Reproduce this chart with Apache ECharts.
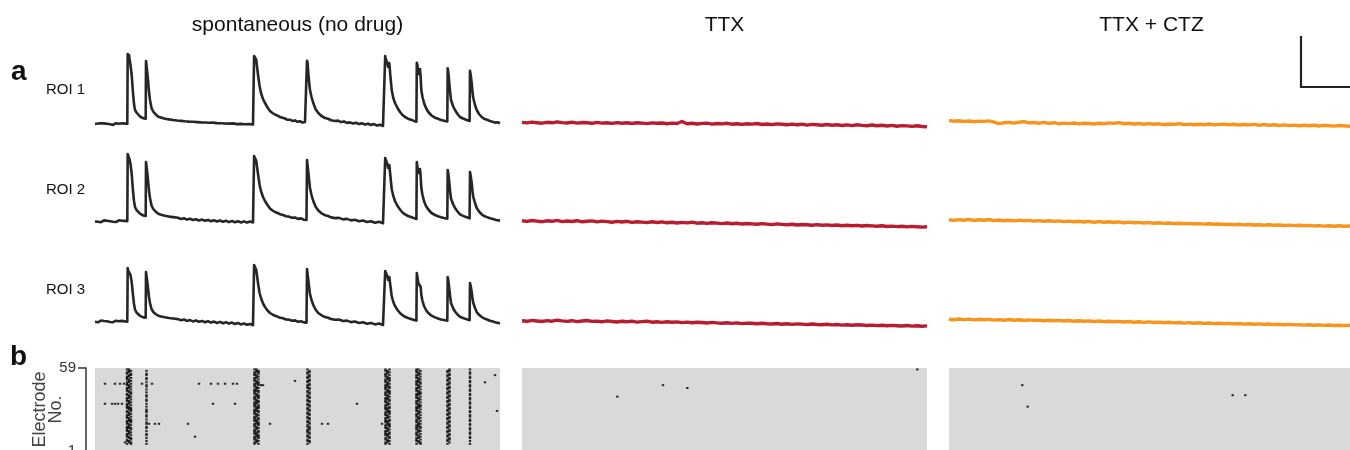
<!DOCTYPE html>
<html><head><meta charset="utf-8">
<script src="https://cdn.jsdelivr.net/npm/echarts@6/dist/echarts.min.js"></script>
<style>html,body{margin:0;padding:0;background:#fff}#c{width:1350px;height:450px}</style>
</head><body><div id="c"></div>
<script>
// ---------------- DATA ----------------
const conditions = ['spontaneous (no drug)', 'TTX', 'TTX + CTZ'];
const rois = ['ROI 1', 'ROI 2', 'ROI 3'];
const panelLetters = ['a', 'b'];
const frameRange = [0, 405];          // recording frames
const electrodeRange = [1, 59];       // electrode numbers
const electrodeTicks = [1, 59];

// spontaneous calcium traces: [frame, dF (a.u.)]
const spont1 = [[0,1.0],[1.5,0.3],[3,1.5],[4.5,0.6],[6,1.8],[7.5,0.9],[9,1.6],[10.5,0.2],[12,1.2],[13.5,1.9],[15,0.7],[16.5,1.4],[18,0.1],[19.5,1.0],[21,1.8],[22.5,0.4],[24,1.3],[25.5,0.6],[27,1.7],[28.5,0.5],[30,1.4],[31.5,0.7],
[32.3,1.2],[32.7,71],[33.3,67],[34,70],[34.7,65],[35.5,60],[36.7,50],[38,32],[39,21],[40,15],[41.5,12.5],[43.3,10.5],[45,8.5],[46.5,8],[48.3,6.7],[49.7,7.3],[50.7,6.3],
[51,64],[51.7,63],[52.3,52],[53,45],[54,33],[55,25],[56.5,17],[58.3,13.3],[60.5,10.8],[63.3,8.3],[66,7.5],[68,6.4],[70,6.2],[72,5.1],[74,5.6],[76,4.3],[78,5.0],[80,3.8],[82,4.5],[84,3.2],[86,4.1],[88,2.9],[90,3.7],[92,2.5],[94,3.4],[96,2.3],[98,3.2],[100,1.8],[102,2.9],[104,2.0],[106,2.6],[108,1.4],[110,2.5],[112,1.2],[114,2.2],[116,1.5],[118,2.4],[120,0.9],[122,1.9],[124,0.8],[126,1.8],[128,0.5],[130,1.5],[132,0.3],[134,1.4],[136,0.6],[138,1.6],[140,-0.1],[142,0.9],[144,0.1],[146,1.1],[148,-0.3],[150,0.8],[152,-0.2],[154,0.9],[156,-0.4],[158,0.5],
[158.8,0.2],[159.1,69],[159.7,67],[160.5,69.5],[161.3,65],[162.2,57],[163.3,48],[164.6,39],[166,32],[168,26],[170,22],[172.5,17.5],[175,14],[177.5,12],[180,10.5],[182.5,9.3],[185,8],[187.5,7.3],[190,6.5],[192.5,5.2],[195,5.3],[197.5,4.1],[200,4.6],[202.5,3.2],[205,3.8],[207.5,2.4],[210,2.9],[211.5,1.8],
[212,64.3],[212.6,62],[213.3,52],[214.2,42],[215,35],[216.5,28],[218.3,22],[220.5,16],[223.3,12],[226.5,9],[230,7],[233,6.2],[236,4.8],[240,4.0],[243,4.4],[246,2.9],[249,3.5],[252,2.1],[255,2.6],[258,1.5],[261,2.3],[264,0.9],[267,1.7],[270,0.4],[273,1.2],[276,0.0],[279,0.9],[282,-0.6],[285,0.3],[288,-1.0],[289.8,-0.3],
[290.2,69],[290.8,66],[291.5,68],[292.3,62],[293.2,58],[294.3,62],[295.3,50],[296.7,35],[298.3,27],[300,22],[302.5,17],[305,13],[307.5,10],[310,8],[313,6.3],[316.7,5],[319,4.1],[321.4,3.3],
[321.8,62.3],[322.5,60],[323.3,51],[324.2,53],[325,56],[325.7,47],[326.3,35],[327.5,28],[329,22],[331,17],[333.3,13],[336.5,9.5],[340,7.3],[343,6.2],[346,5.0],[349,4.3],[352.3,3.6],
[352.7,56.7],[353.4,52],[354.3,42],[355.2,32],[356,25],[358,19],[360,15],[362.5,11],[365,8],[368,6.5],[371,5.2],[374.6,4.0],
[375,54.3],[375.7,50],[376.7,42],[377.5,33],[378.3,27],[380,20],[381.7,15],[384,11],[386.7,8],[389,6.3],[392,5.2],[395,4],[397.5,3.3],[400,2.4],[402.5,2.8],[405,1.8]];

const spont2 = [[0,0.5],[1.5,1.4],[3,0.2],[4.5,1.1],[6,-0.2],[7.5,0.9],[9,1.6],[10.5,0.4],[12,1.3],[13.5,-0.1],[15,0.8],[16.5,1.5],[18,0.3],[19.5,1.2],[21,0.0],[22.5,1.0],[24,1.7],[25.5,0.5],[27,1.3],[28.5,0.2],[30,1.1],[31.5,0.4],
[32.3,0.8],[32.7,68],[33.3,66],[34,67],[34.7,62],[35.5,58],[36.7,48],[38,31],[39,21],[40,15],[41.5,12],[43.3,10],[45,8.4],[46.5,7.6],[48.3,6.5],[49.7,7.1],[50.7,6.0],
[51,60],[51.7,58],[52.3,49],[53,42],[54,31],[55,24],[56.5,16.5],[58.3,13],[60.5,10.5],[63.3,8.2],[66,7.3],[68,6.1],[70,6.3],[72,5.0],[74,5.4],[76,4.2],[78,4.9],[80,3.6],[83,4.3],[86,3.0],[89,3.8],[92,2.4],[95,3.2],[98,2.0],[101,2.8],[104,1.5],[107,2.4],[110,1.2],[113,2.1],[116,0.8],[119,1.8],[122,0.5],[125,1.5],[128,0.2],[131,1.2],[134,-0.1],[137,1.0],[140,-0.3],[143,0.7],[146,-0.5],[149,0.6],[152,-0.6],[155,0.4],[158,-0.4],
[158.8,0.0],[159.1,66],[159.7,64],[160.5,65],[161.3,61],[162.2,54],[163.3,46],[164.6,37],[166,31],[168,25],[170,21],[172.5,17],[175,13.5],[177.5,11.5],[180,10],[182.5,9],[185,7.8],[188,7.0],[191,5.8],[194,5.4],[197,4.2],[200,4.5],[203,3.1],[206,3.6],[209,2.3],[211.5,2.0],
[212,62],[212.6,60],[213.3,50],[214.2,41],[215,34],[216.5,27],[218.3,21],[220.5,15.5],[223.3,11.5],[226.5,8.7],[230,6.8],[233,6.0],[236,4.6],[240,3.9],[244,4.1],[248,2.6],[252,3.1],[256,1.6],[260,2.2],[264,0.7],[268,1.5],[272,0.0],[276,0.8],[280,-0.8],[284,0.2],[288,-1.2],[289.8,-0.5],
[290.2,64],[290.8,62],[291.5,63],[292.3,58],[293.2,54],[294.3,57],[295.3,47],[296.7,33],[298.3,26],[300,21],[302.5,16],[305,12.5],[307.5,9.5],[310,7.6],[313,6.0],[316.7,4.8],[319,3.9],[321.4,3.0],
[321.8,60],[322.5,58],[323.3,49],[324.2,50],[325,53],[325.7,45],[326.3,34],[327.5,27],[329,21],[331,16],[333.3,12.5],[336.5,9],[340,7],[343,5.8],[346,4.8],[349,4.0],[352.3,3.3],
[352.7,52],[353.4,48],[354.3,39],[355.2,30],[356,23.5],[358,18],[360,14],[362.5,10.5],[365,7.6],[368,6.1],[371,5.0],[374.6,3.7],
[375,50],[375.7,46],[376.7,39],[377.5,31],[378.3,25],[380,19],[381.7,14],[384,10.5],[386.7,7.6],[389,6.0],[392,4.9],[395,3.7],[398,3.0],[401,2.0],[403,2.5],[405,1.4]];

const spont3 = [[0,0.2],[1.5,1.2],[3,-0.3],[4.5,0.8],[6,1.5],[7.5,0.1],[9,1.0],[10.5,-0.4],[12,0.7],[13.5,1.4],[15,0.0],[16.5,0.9],[18,-0.2],[19.5,0.6],[21,1.3],[22.5,-0.1],[24,0.8],[25.5,0.3],[27,1.1],[28.5,-0.3],[30,0.6],[31.5,0.0],
[32.3,0.4],[32.7,54],[33.3,51],[34,53],[34.7,49],[35.5,47],[36.7,40],[38,27],[39,18],[40,12.5],[41.5,9.5],[43.3,7.6],[45,6.2],[46.5,5.6],[48.3,4.6],[49.7,5.2],[50.7,4.4],
[51,50],[51.7,48],[52.3,40],[53,34],[54,25],[55,19],[56.5,13],[58.3,10],[60.5,8],[63.3,6.3],[66,5.5],[68,4.4],[70,4.7],[72,3.5],[74,4.0],[76,2.8],[78,3.5],[80,2.2],[83,2.9],[86,1.7],[89,2.5],[92,1.1],[95,1.9],[98,0.6],[101,1.5],[104,0.2],[107,1.1],[110,-0.2],[113,0.8],[116,-0.6],[119,0.4],[122,-1.0],[125,0.1],[128,-1.3],[131,-0.3],[134,-1.6],[137,-0.6],[140,-2.0],[143,-1.0],[146,-2.4],[149,-1.5],[152,-2.8],[155,-1.9],[158,-3.2],
[158.8,-2.8],[159.1,57],[159.7,56],[160.5,56.5],[161.3,52],[162.2,45],[163.3,37],[164.6,29],[166,24],[168,18.5],[170,15],[172.5,11.5],[175,9],[177.5,7.5],[180,6.2],[182.5,5.4],[185,4.2],[188,3.8],[191,2.5],[194,2.4],[197,1.2],[200,1.6],[203,0.3],[206,0.8],[209,-0.4],[211.5,-0.6],
[212,53],[212.6,51],[213.3,42],[214.2,34],[215,28],[216.5,22],[218.3,17],[220.5,12.5],[223.3,9],[226.5,6.7],[230,5],[233,4.3],[236,3.0],[240,2.3],[244,2.4],[248,1.0],[252,1.4],[256,-0.1],[260,0.5],[264,-1.0],[268,-0.2],[272,-1.7],[276,-0.9],[280,-2.4],[284,-1.5],[288,-3.0],[289.8,-2.4],
[290.2,51],[290.8,49],[291.5,50],[292.3,46],[293.2,42],[294.3,45],[295.3,37],[296.7,26],[298.3,20],[300,16],[302.5,12],[305,9],[307.5,6.8],[310,5.2],[313,4.0],[316.7,2.8],[319,2.1],[321.4,1.4],
[321.8,49],[322.5,47],[323.3,39],[324.2,38],[325,41],[325.7,35],[326.3,27],[327.5,21],[329,16],[331,12],[333.3,9],[336.5,6.3],[340,4.6],[343,3.5],[346,2.6],[349,1.9],[352.3,1.2],
[352.7,45],[353.4,41],[354.3,33],[355.2,25],[356,19],[358,14],[360,10.5],[362.5,7.5],[365,5.3],[368,4.0],[371,2.9],[374.6,1.8],
[375,39],[375.7,36],[376.7,30],[377.5,24],[378.3,19],[380,14],[381.7,10],[384,7.2],[386.7,5],[389,3.6],[392,2.5],[395,1.3],[398,0.5],[401,-0.6],[403,-0.1],[405,-1.2]];

// drug traces, one value every FLAT_STEP frames
const FLAT_STEP = 5;
const ttx1 = [2.6,2.1,2.9,2.3,1.8,2.7,2.2,3.1,2.4,2.0, 2.8,1.9,2.5,2.2,1.7,2.6,1.9,2.3,1.6,2.4, 1.8,2.2,1.5,2.3,1.9,1.4,2.1,1.7,2.0,1.3,
 1.9,1.5,3.5,1.2,1.8,1.0,1.6,1.9,0.9,1.5, 1.1,1.7,0.8,1.3,0.6,1.2,0.9,1.5,0.5,1.0, 0.4,1.1,0.7,0.2,0.9,0.3,0.8,-0.1,0.6,0.2,
 -0.3,0.5,-0.2,0.3,-0.5,0.1,-0.6,0.2,-0.4,-0.8, 0.0,-0.7,-0.3,-1.0,-0.4,-1.2,-0.6,-0.9,-1.4,-0.8, -1.5,-1.9];
const ttx2 = [1.3,0.6,1.5,0.9,0.3,1.2,0.7,1.6,0.4,1.0, 0.5,1.3,0.2,0.8,1.1,0.1,0.9,0.4,-0.2,0.6, 0.0,0.7,-0.4,0.3,-0.1,-0.6,0.2,-0.5,0.1,-0.8,
 -0.3,-1.0,-0.4,-0.9,-0.2,-1.2,-0.7,-1.4,-0.8,-1.1, -1.6,-1.0,-1.8,-1.3,-2.0,-1.5,-1.9,-2.3,-1.6,-2.1, -2.6,-1.9,-2.4,-2.8,-2.2,-3.0,-2.5,-2.7,-3.2,-2.6,
 -3.3,-2.9,-3.5,-3.0,-3.7,-3.2,-3.8,-3.4,-4.0,-3.5, -3.9,-4.3,-3.8,-4.5,-4.1,-4.6,-4.2,-4.9,-4.4,-4.8, -5.1,-4.7];
const ttx3 = [1.2,0.7,1.6,1.0,0.5,1.4,0.8,1.9,1.1,0.6, 1.3,0.4,1.0,1.5,0.6,0.9,0.2,1.1,0.5,0.0, 0.7,0.2,0.9,-0.1,0.4,0.8,-0.2,0.3,-0.4,0.2,
 -0.3,0.1,-0.6,-0.1,-0.8,-0.3,-0.5,-1.0,-0.4,-0.9, -1.2,-0.7,-1.4,-0.9,-1.6,-1.1,-1.3,-1.8,-1.2,-1.7, -2.0,-1.5,-2.2,-1.8,-2.4,-1.9,-2.1,-2.6,-2.0,-2.5,
 -2.8,-2.3,-2.9,-2.5,-3.1,-2.7,-3.3,-2.8,-3.0,-3.5, -3.1,-3.6,-3.2,-3.8,-3.4,-3.7,-4.0,-3.5,-4.1,-3.8, -4.2,-3.9];
const ctz1 = [4.6,3.8,4.2,3.5,4.0,3.3,3.9,3.6,4.1,2.9, 1.4,2.2,2.6,1.9,2.8,3.4,2.1,2.5,1.8,2.7, 1.6,2.3,1.2,1.9,1.4,2.0,1.1,1.8,1.5,1.0,
 1.7,1.2,2.1,1.6,2.4,1.3,1.8,1.0,1.5,0.8, 1.4,0.7,1.2,0.3,1.0,0.6,1.3,0.4,0.9,0.2, 0.8,0.3,1.0,0.1,0.6,0.9,0.2,0.7,0.0,0.5,
 0.1,0.6,-0.2,0.4,-0.3,0.2,-0.5,0.1,-0.6,-0.1, -0.8,-0.2,-0.7,-0.3,-1.0,-0.4,-0.8,-1.1,-0.5,-0.9, -1.2,-0.8];
const ctz2 = [2.3,1.6,2.4,1.8,2.6,1.5,2.2,1.7,2.5,1.4, 2.0,1.3,1.8,1.1,1.9,1.2,1.6,0.9,1.4,0.8, 1.3,0.6,1.1,0.4,0.9,0.2,0.8,0.0,0.6,-0.2,
 0.4,-0.3,0.2,-0.5,0.1,-0.7,-0.1,-0.8,-0.4,-1.0, -0.6,-1.2,-0.8,-1.4,-1.0,-1.6,-1.2,-1.8,-1.4,-2.0, -1.6,-2.1,-1.8,-2.3,-2.0,-2.5,-2.2,-2.7,-2.3,-2.9,
 -2.5,-3.0,-2.7,-3.2,-2.8,-3.3,-3.0,-3.5,-3.1,-3.6, -3.3,-3.8,-3.4,-3.9,-3.6,-4.1,-3.7,-4.2,-3.8,-4.3, -4.0,-4.4];
const ctz3 = [2.8,2.2,3.0,2.4,2.9,2.1,2.7,2.3,2.6,1.9, 2.4,1.8,2.5,1.7,2.2,1.5,2.1,1.6,1.9,1.3, 1.8,1.2,1.6,1.0,1.5,0.8,1.3,0.7,1.1,0.5,
 1.0,0.3,0.8,0.2,0.6,0.0,0.5,-0.2,0.3,-0.4, 0.1,-0.5,-0.1,-0.7,-0.3,-0.9,-0.5,-1.1,-0.6,-1.2, -0.8,-1.4,-1.0,-1.6,-1.2,-1.8,-1.4,-1.9,-1.5,-2.1,
 -1.7,-2.3,-1.9,-2.4,-2.0,-2.6,-2.2,-2.8,-2.4,-2.9, -2.6,-3.1,-2.7,-3.2,-2.9,-3.4,-3.0,-3.5,-3.2,-3.6, -3.3,-3.7];

// MEA raster, network bursts: [frame, electrodes silent in this column]; others in burstActive fire
const burstActive = [6, 58];
const burstColumns = [
 [32, [7,10,14,19,23,27,30,35,39,42,46,50,54,57]],
 [34, [6,9,12,16,21,25,29,33,37,41,44,48,52,55]],
 [36, [8,11,13,15,18,20,24,26,28,32,34,36,38,40,43,45,47,49,51,53,56,58]],
 [51.5, [7,9,11,14,16,19,22,24,27,31,33,35,38,41,43,45,48,50,53,56,58]],
 [159.5, [8,12,17,21,26,31,36,40,45,49,53,57]],
 [161.5, [6,10,15,19,24,28,33,38,42,47,51,55]],
 [163.5, [7,9,13,16,18,22,25,27,30,34,37,41,44,46,50,52,54,58]],
 [212.5, [7,10,13,17,20,23,26,29,32,35,38,41,44,48,51,54,57]],
 [214.5, [6,9,12,15,19,22,25,28,31,34,37,40,43,46,49,52,55,58]],
 [290.5, [8,11,16,20,25,29,34,39,43,48,52,56]],
 [292.5, [6,10,14,18,23,27,32,36,41,45,50,54,58]],
 [294.5, [7,9,12,15,17,21,24,26,30,33,35,38,40,44,47,49,53,55,57]],
 [321.5, [7,11,15,20,24,28,33,37,42,46,51,55]],
 [323.5, [6,9,13,17,22,26,30,35,39,44,48,53,57]],
 [325.5, [8,10,12,14,16,19,21,23,25,27,29,31,34,36,38,40,43,45,47,50,52,54,56,58]],
 [352.5, [7,10,13,16,19,22,25,28,31,34,37,40,43,46,49,52,55,58]],
 [354.5, [6,8,11,14,17,20,23,26,29,32,35,38,41,44,47,50,53,56]],
 [375, [7,9,12,15,18,21,24,27,30,33,36,39,42,45,48,51,54,57]]
];
// isolated spikes [frame, electrode]
const spontSpikes = [[10,48],[20,48],[25,48],[29,48],[47,48],[57,48],[104,48],[116,48],[123,48],[130,48],[138,48],[142,48],[166,47],[168,47],[200,50],
 [10,34],[17,34],[20,34],[23,34],[27,34],[118,34],[140,34],[262,34],
 [54,20],[60,20],[64,20],[93,20],[175,20],[227,20],[233,20],[287,20],
 [100,11],[30,7],[400,54],[390,49],[402,29]];
const ttxSpikes = [[395.3,58],[141,47],[165.3,45],[95.3,39]];
const ctzSpikes = [[73.3,47],[78.7,32],[283.7,40],[296.3,40]];

// ---------------- BUILD ----------------
const FONT = 'Liberation Sans, Arial, Helvetica, sans-serif';
const colors = ['#262626', '#b81c2e', '#f7941d'];
const colLeft = [95, 522, 949];
const colWidth = 405;
const rowBase = [125, 222, 322]; // pixel of value 0
const roiLabelY = [90, 190, 290];
const traceRange = [-10, 80];
const rasterTop = 368, rasterHeight = 83;

const flatToPairs = arr => arr.map((v, i) => [i * FLAT_STEP, v]);
const traces = [
  [spont1, flatToPairs(ttx1), flatToPairs(ctz1)],
  [spont2, flatToPairs(ttx2), flatToPairs(ctz2)],
  [spont3, flatToPairs(ttx3), flatToPairs(ctz3)]
];

const grid = [], xAxis = [], yAxis = [], series = [];
for (let r = 0; r < 3; r++) {
  for (let c = 0; c < 3; c++) {
    const idx = grid.length;
    grid.push({ left: colLeft[c], width: colWidth, top: rowBase[r] - traceRange[1], height: traceRange[1] - traceRange[0], outerBoundsMode: 'none', containLabel: false });
    xAxis.push({ gridIndex: idx, type: 'value', min: frameRange[0], max: frameRange[1], show: false });
    yAxis.push({ gridIndex: idx, type: 'value', min: traceRange[0], max: traceRange[1], show: false });
    series.push({
      type: 'line', xAxisIndex: idx, yAxisIndex: idx, data: traces[r][c],
      showSymbol: false, symbol: 'none', animation: false, clip: false,
      lineStyle: { color: colors[c], width: c === 0 ? 2.6 : 3.4, join: 'round' }
    });
  }
}

// raster
const burstPoints = [];
burstColumns.forEach(([f, gaps]) => {
  for (let e = burstActive[0]; e <= burstActive[1]; e++) if (!gaps.includes(e)) burstPoints.push([f, e]);
});
const rasterData = [burstPoints.concat(spontSpikes), ttxSpikes, ctzSpikes];
for (let c = 0; c < 3; c++) {
  const idx = grid.length;
  grid.push({ left: colLeft[c], width: colWidth, top: rasterTop, height: rasterHeight, show: true, backgroundColor: '#d9d9d9', borderWidth: 0, outerBoundsMode: 'none', containLabel: false });
  xAxis.push({ gridIndex: idx, type: 'value', min: frameRange[0], max: frameRange[1], show: false });
  yAxis.push({ gridIndex: idx, type: 'value', min: electrodeRange[0], max: electrodeRange[1], show: false });
  series.push({
    type: 'scatter', xAxisIndex: idx, yAxisIndex: idx, data: rasterData[c],
    symbol: 'rect', symbolSize: [2.4, 2.0], animation: false, silent: true,
    itemStyle: { color: '#000' }
  });
}
// electrode axis, drawn a little left of the raster
{
  const idx = grid.length;
  grid.push({ left: 86, width: 1, top: rasterTop, height: rasterHeight, outerBoundsMode: 'none', containLabel: false });
  xAxis.push({ gridIndex: idx, type: 'value', min: 0, max: 1, show: false });
  yAxis.push({
    gridIndex: idx, type: 'value', min: electrodeRange[0], max: electrodeRange[1], position: 'left',
    splitLine: { show: false },
    axisLine: { show: true, lineStyle: { color: '#333', width: 1.5 } },
    axisTick: { show: true, inside: false, length: 8, customValues: electrodeTicks, lineStyle: { color: '#333', width: 1.5 } },
    axisLabel: { show: true, customValues: electrodeTicks, margin: 10, fontSize: 15, color: '#333', fontFamily: FONT },
    name: 'Electrode\nNo.', nameLocation: 'middle', nameGap: 22, nameRotate: 90, nameMoveOverlap: false,
    nameTextStyle: { fontSize: 18, color: '#444', fontFamily: FONT, lineHeight: 16 }
  });
}

const graphic = [];
conditions.forEach((t, c) => graphic.push({ type: 'text', style: { x: colLeft[c] + colWidth / 2, y: 25, text: t, font: '21px ' + FONT, fill: '#111', textAlign: 'center', textVerticalAlign: 'middle' } }));
rois.forEach((t, r) => graphic.push({ type: 'text', style: { x: 46, y: roiLabelY[r], text: t, font: '15px ' + FONT, fill: '#111', textAlign: 'left', textVerticalAlign: 'middle' } }));
graphic.push({ type: 'text', style: { x: 11, y: 72, text: panelLetters[0], font: 'bold 28px ' + FONT, fill: '#111', textAlign: 'left', textVerticalAlign: 'middle' } });
graphic.push({ type: 'text', style: { x: 10, y: 357, text: panelLetters[1], font: 'bold 28px ' + FONT, fill: '#111', textAlign: 'left', textVerticalAlign: 'middle' } });
// scale bar
graphic.push({ type: 'polyline', shape: { points: [[1301, 36], [1301, 87], [1350, 87]] }, style: { stroke: '#222', lineWidth: 2.2, fill: null } });

const chart = echarts.init(document.getElementById('c'), null, { renderer: 'canvas' });
chart.setOption({ animation: false, backgroundColor: '#fff', grid, xAxis, yAxis, series, graphic });
</script></body></html>
